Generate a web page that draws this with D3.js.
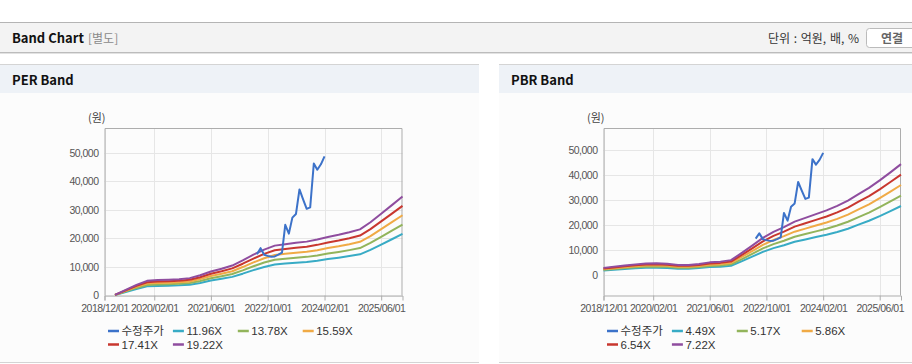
<!DOCTYPE html>
<html>
<head>
<meta charset="utf-8">
<script src="https://cdn.jsdelivr.net/npm/d3@7"></script>
<style>
  body { margin: 0; background: #fff; }
  svg { display: block; font-family: "Liberation Sans", "Noto Sans CJK KR", sans-serif; }
</style>
</head>
<body>
<script>
// quarterly points for the band lines
const quarterDates = ["2018/12/01","2019/03/01","2019/06/01","2019/09/01","2019/12/01","2020/03/01","2020/06/01",
  "2020/09/01","2020/12/01","2021/03/01","2021/06/01","2021/09/01","2021/12/01","2022/03/01","2022/06/01",
  "2022/09/01","2022/12/01","2023/03/01","2023/06/01","2023/09/01","2023/12/01","2024/03/01","2024/06/01",
  "2024/09/01","2024/12/01","2025/03/01","2025/06/01","2025/09/01","2025/12/01"];

// EPS / BPS (band = multiple x EPS or BPS)
const perEps = [null, 13, 104, 193, 268, 281, 289, 297, 317, 369, 437, 489, 546, 640, 744,
  838, 910, 937, 963, 983, 1020, 1067, 1108, 1155, 1207, 1337, 1493, 1649, 1805];
const pbrBps = [388, 457, 526, 582, 637, 644, 623, 554, 554, 609, 693, 734, 817, 1205, 1620,
  2050, 2382, 2645, 2950, 3158, 3366, 3573, 3823, 4114, 4474, 4820, 5235, 5679, 6136];

const perMultiples = [11.96, 13.78, 15.59, 17.41, 19.22];
const pbrMultiples = [4.49, 5.17, 5.86, 6.54, 7.22];

// monthly adjusted price (수정주가)
const priceDates = ["2022/07/01","2022/08/01","2022/09/01","2022/10/01","2022/11/01","2022/12/01","2023/01/01",
  "2023/02/01","2023/03/01","2023/04/01","2023/05/01","2023/06/01","2023/07/01","2023/08/01","2023/09/01",
  "2023/10/01","2023/11/01","2023/12/01","2024/01/01","2024/02/01"];
const price = [14500, 16600, 14300, 13900, 13600, 13700, 14300, 15000, 24800, 21700, 27300, 28600,
  37200, 33700, 30400, 30900, 46300, 44100, 46000, 48800];

const xTickLabels = ["2018/12/01","2020/02/01","2021/06/01","2022/10/01","2024/02/01","2025/06/01"];
const yTicks = [0, 10000, 20000, 30000, 40000, 50000];

const priceName = "수정주가";
const priceColor = "#3c72c9";
const bandColors = ["#38abc5", "#92b45b", "#f0aa45", "#c8372f", "#8f4d9f"];

const parseTime = d3.timeParse("%Y/%m/%d");

const svg = d3.select("body").append("svg")
  .attr("width", 912)
  .attr("height", 364);

// ---- top header bar
svg.append("rect").attr("x", 0).attr("y", 22).attr("width", 912).attr("height", 31).attr("fill", "#f3f3f3");
svg.append("line").attr("x1", 0).attr("x2", 912).attr("y1", 22.5).attr("y2", 22.5).attr("stroke", "#b4b4b4");
svg.append("line").attr("x1", 0).attr("x2", 912).attr("y1", 52.5).attr("y2", 52.5).attr("stroke", "#bcbcbc");
svg.append("line").attr("x1", 0).attr("x2", 912).attr("y1", 53.5).attr("y2", 53.5).attr("stroke", "#e2e2e2");
svg.append("text").attr("x", 12).attr("y", 42.5)
  .style("font-family", "'Noto Sans CJK KR', sans-serif")
  .attr("font-size", 13).attr("font-weight", "bold").attr("fill", "#111").text("Band Chart");
svg.append("text").attr("x", 88).attr("y", 42.5)
  .style("font-family", "'Noto Sans CJK KR', sans-serif")
  .attr("font-size", 12).attr("fill", "#8a8a8a").text("[별도]");
svg.append("text").attr("x", 859).attr("y", 42.5).attr("text-anchor", "end")
  .style("font-family", "'Noto Sans CJK KR', sans-serif").style("word-spacing", "1px")
  .attr("font-size", 12).attr("fill", "#333").text("단위 : 억원, 배, %");
svg.append("rect").attr("x", 866.5).attr("y", 28.5).attr("width", 60).attr("height", 19).attr("rx", 3)
  .attr("fill", "#fff").attr("stroke", "#bbb");
svg.append("text").attr("x", 881).attr("y", 42.5)
  .style("font-family", "'Noto Sans CJK KR', sans-serif")
  .attr("font-size", 12).attr("font-weight", "bold").attr("fill", "#666").text("연결");

// ---- panels
function panel(x0, w, title)
{
  svg.append("rect").attr("x", x0).attr("y", 64).attr("width", w).attr("height", 298).attr("fill", "#fcfcfc");
  svg.append("rect").attr("x", x0).attr("y", 64).attr("width", w).attr("height", 29).attr("fill", "#eef2f7");
  svg.append("line").attr("x1", x0).attr("x2", x0 + w).attr("y1", 64.5).attr("y2", 64.5).attr("stroke", "#d4d4d4");
  svg.append("line").attr("x1", x0).attr("x2", x0 + w).attr("y1", 362.5).attr("y2", 362.5).attr("stroke", "#d4d4d4");
  svg.append("text").attr("x", x0 + 12).attr("y", 85)
    .style("font-family", "'Noto Sans CJK KR', sans-serif")
    .attr("font-size", 13).attr("font-weight", "bold").attr("fill", "#111").text(title);
}

panel(0, 479, "PER Band");
panel(499, 413, "PBR Band");

// ---- band chart
function bandChart(cfg)
{
  const g = svg.append("g");
  const left = cfg.left, right = cfg.right, top = 128.5, bottom = 295.5;

  const x = d3.scaleTime()
    .domain([parseTime("2018/12/01"), parseTime("2025/12/01")])
    .range([left, right]);
  const y = d3.scaleLinear()
    .domain(cfg.yDomain)
    .range([bottom, top]);

  const xTicks = xTickLabels.map(parseTime);

  // grid
  g.append("g").selectAll("line").data(yTicks).join("line")
    .attr("x1", left).attr("x2", right)
    .attr("y1", d => Math.round(y(d)) + 0.5).attr("y2", d => Math.round(y(d)) + 0.5)
    .attr("stroke", "#e6e6e6");
  g.append("g").selectAll("line").data(xTicks).join("line")
    .attr("x1", d => Math.round(x(d)) + 0.5).attr("x2", d => Math.round(x(d)) + 0.5)
    .attr("y1", top).attr("y2", bottom)
    .attr("stroke", "#e6e6e6");

  // frame
  g.append("path")
    .attr("d", `M${left + 0.5},${bottom}V${top}H${right - 0.5}V${bottom}`)
    .attr("fill", "none").attr("stroke", "#adadad");

  // x axis
  const xAxis = g.append("g")
    .attr("transform", "translate(0," + bottom + ")")
    .call(d3.axisBottom(x).tickValues(xTicks).tickFormat(d3.timeFormat("%Y/%m/%d")).tickSizeOuter(0).tickSize(5).tickPadding(4));
  xAxis.select(".domain").attr("stroke", "#adadad");
  xAxis.selectAll(".tick line").attr("stroke", "#adadad");
  xAxis.selectAll("text").attr("fill", "#555").attr("font-size", 10.5)
    .style("font-family", "'Liberation Sans', sans-serif").style("letter-spacing", "-0.5px");

  // y labels
  const yAxis = g.append("g")
    .attr("transform", "translate(" + left + ",0)")
    .call(d3.axisLeft(y).tickValues(yTicks).tickFormat(d3.format(",")).tickSize(0).tickPadding(6));
  yAxis.select(".domain").remove();
  yAxis.selectAll("text").attr("fill", "#555").attr("font-size", 10.5)
    .style("font-family", "'Liberation Sans', sans-serif").style("letter-spacing", "-0.5px");

  // unit
  g.append("text").attr("x", cfg.unitX).attr("y", 122)
    .style("font-family", "'Noto Sans CJK KR', sans-serif")
    .attr("font-size", 11).attr("fill", "#444").text("(원)");

  // band lines
  const line = d3.line()
    .defined(d => d.v != null)
    .x(d => x(d.t))
    .y(d => y(d.v));

  cfg.multiples.forEach((m, i) => {
    const data = quarterDates.map((d, j) => ({ t: parseTime(d), v: cfg.base[j] == null ? null : cfg.base[j] * m }));
    g.append("path").datum(data)
      .attr("fill", "none").attr("stroke", bandColors[i]).attr("stroke-width", 2)
      .attr("stroke-linejoin", "round")
      .attr("d", line);
  });

  const priceData = priceDates.map((d, j) => ({ t: parseTime(d), v: price[j] }));
  g.append("path").datum(priceData)
    .attr("fill", "none").attr("stroke", priceColor).attr("stroke-width", 2)
    .attr("stroke-linejoin", "round")
    .attr("d", line);

  // legend
  const names = [priceName].concat(cfg.multiples.map(m => m.toFixed(2) + "X"));
  const colors = [priceColor].concat(bandColors);
  const item = g.append("g").selectAll("g").data(names).join("g")
    .attr("transform", (d, i) => "translate(" + (left + 3.5 + (i % 4) * 64.9) + "," + (331 + Math.floor(i / 4) * 13.5) + ")");
  item.append("line").attr("x1", 0).attr("x2", 11).attr("y1", 0).attr("y2", 0)
    .attr("stroke", (d, i) => colors[i]).attr("stroke-width", 2.5);
  item.append("text").attr("x", 13.5).attr("dy", "0.36em")
    .attr("font-size", 11.5).attr("fill", "#333").text(d => d);
}

bandChart({ left: 104.5, right: 402.5, yDomain: [0, 58560], base: perEps, multiples: perMultiples, unitX: 88 });
bandChart({ left: 603.5, right: 901, yDomain: [-8250, 58560], base: pbrBps, multiples: pbrMultiples, unitX: 587 });
</script>
</body>
</html>
